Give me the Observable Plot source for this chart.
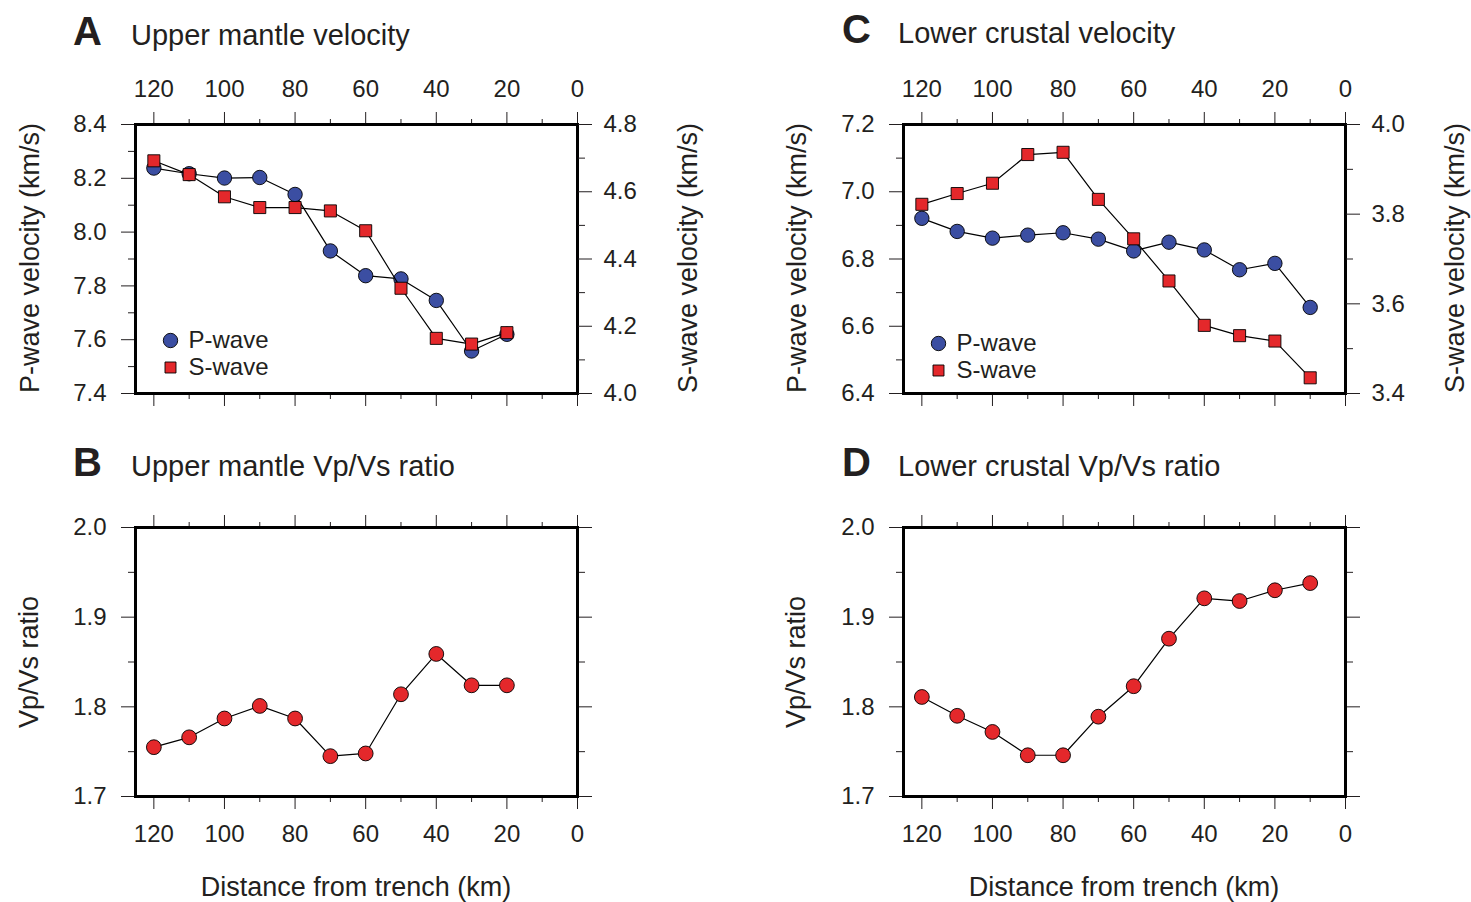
<!DOCTYPE html>
<html><head><meta charset="utf-8">
<script src="https://cdn.jsdelivr.net/npm/d3@7"></script>
<script src="https://cdn.jsdelivr.net/npm/@observablehq/plot@0.6"></script>
<style>
html,body{margin:0;padding:0;background:#fff;}
#fig{position:relative;width:1471px;height:902px;overflow:hidden;background:#fff;}
</style></head><body><div id="fig"></div>
<script>
// ---- data ----
const distUpper = [120,110,100,90,80,70,60,50,40,30,20];
const vpUpper = [8.238,8.217,8.201,8.203,8.140,7.930,7.838,7.826,7.746,7.558,7.620];
const vsUpper = [4.692,4.651,4.585,4.553,4.553,4.543,4.484,4.313,4.164,4.147,4.181];
const ratioUpper = [1.755,1.766,1.787,1.801,1.787,1.745,1.748,1.814,1.859,1.824,1.824];

const distLower = [120,110,100,90,80,70,60,50,40,30,20,10];
const vpLower = [6.921,6.882,6.862,6.871,6.878,6.859,6.824,6.850,6.827,6.768,6.787,6.656];
const vsLower = [3.822,3.846,3.869,3.933,3.938,3.833,3.745,3.651,3.552,3.529,3.517,3.435];
const ratioLower = [1.811,1.790,1.772,1.746,1.746,1.789,1.823,1.876,1.921,1.918,1.930,1.938];

const xMajor = [120,100,80,60,40,20,0];
const xMinor = [110,90,70,50,30,10];
const vpUpperMajor = [7.4,7.6,7.8,8.0,8.2,8.4];
const vpUpperMinor = [7.5,7.7,7.9,8.1,8.3];
const vsUpperMajor = [4.0,4.2,4.4,4.6,4.8];
const vsUpperMinor = [4.1,4.3,4.5,4.7];
const vpLowerMajor = [6.4,6.6,6.8,7.0,7.2];
const vpLowerMinor = [6.5,6.7,6.9,7.1];
const vsLowerMajor = [3.4,3.6,3.8,4.0];
const vsLowerMinor = [3.5,3.7,3.9];
const ratioMajor = [1.7,1.8,1.9,2.0];
const ratioMinor = [1.75,1.85,1.95];
const legendLabels = ["P-wave","S-wave"];

const blue = "#3b4ea2", red = "#e4282b", ink = "#231f20";
const font = "'Liberation Sans', Arial, Helvetica, sans-serif";
const xDomain = [125.2, 0];

const fig = document.getElementById("fig");
function place(el, left, top) {
  el.style.position = "absolute";
  el.style.left = left + "px";
  el.style.top = top + "px";
  fig.appendChild(el);
}
const none = () => "";
const f1 = d3.format(".1f");
function xAxes(labTop, labBottom) {
  return [
    Plot.axisX({anchor:"top", ticks:xMajor, tickSize:13, tickPadding:15, tickFormat: labTop ? d => String(d) : none, label:null}),
    Plot.axisX({anchor:"top", ticks:xMinor, tickSize:6, tickFormat:none, label:null}),
    Plot.axisX({anchor:"bottom", ticks:xMajor, tickSize:13, tickPadding:15, tickFormat: labBottom ? d => String(d) : none, label:null}),
    Plot.axisX({anchor:"bottom", ticks:xMinor, tickSize:6, tickFormat:none, label:null})
  ];
}
function yAxes(anchor, major, minor, labels, pad) {
  return [
    Plot.axisY({anchor, ticks:major, tickSize:14, tickPadding:pad, tickFormat: labels ? f1 : none, label:null}),
    Plot.axisY({anchor, ticks:minor, tickSize:7, tickFormat:none, label:null})
  ];
}
const style = {fontFamily:font, fontSize:"24px", color:ink, background:"transparent", overflow:"visible"};

const cols = [
  {left:0, width:740, ml:135, mr:163},
  {left:740, width:731, ml:163, mr:126}
];
const topRow = {top:60, height:360, mt:64, mb:27};
const botRow = {top:460, height:400, mt:67, mb:64};

function buildVel(col, dist, vp, vs, vpDom, vpMaj, vpMin, vsDom, vsMaj, vsMin, legDy) {
  const rows = dist.map((d,i) => ({d, vp: vp[i], vs: vs[i]}));
  const common = {width:col.width, height:topRow.height, marginLeft:col.ml, marginRight:col.mr,
    marginTop:topRow.mt, marginBottom:topRow.mb, style};
  const p = Plot.plot({...common,
    x:{domain:xDomain}, y:{domain:vpDom},
    marks:[
      ...xAxes(true,false),
      ...yAxes("left", vpMaj, vpMin, true, 15),
      Plot.line(rows, {x:"d", y:"vp", stroke:"black", strokeWidth:1.2}),
      Plot.dot(rows, {x:"d", y:"vp", r:7.2, fill:blue, stroke:"black", strokeWidth:0.9}),
      Plot.dot([legendLabels[0]], {frameAnchor:"bottom-left", dx:35, dy:legDy[0], r:7.2, fill:blue, stroke:"black", strokeWidth:0.9}),
      Plot.text([legendLabels[0]], {text:d=>d, frameAnchor:"bottom-left", dx:53, dy:legDy[0], textAnchor:"start", lineAnchor:"middle", fontSize:24, fill:ink}),
      Plot.text([legendLabels[1]], {text:d=>d, frameAnchor:"bottom-left", dx:53, dy:legDy[1], textAnchor:"start", lineAnchor:"middle", fontSize:24, fill:ink}),
      Plot.frame({stroke:"black", strokeWidth:3})
    ]});
  const s = Plot.plot({...common,
    x:{domain:xDomain, axis:null}, y:{domain:vsDom},
    marks:[
      ...yAxes("right", vsMaj, vsMin, true, 12),
      Plot.line(rows, {x:"d", y:"vs", stroke:"black", strokeWidth:1.2}),
      Plot.dot(rows, {x:"d", y:"vs", r:6.8, symbol:"square", fill:red, stroke:"black", strokeWidth:0.9}),
      Plot.dot([legendLabels[1]], {frameAnchor:"bottom-left", dx:35, dy:legDy[1], r:6.2, symbol:"square", fill:red, stroke:"black", strokeWidth:0.9})
    ]});
  place(p, col.left, topRow.top);
  place(s, col.left, topRow.top);
}

function buildRatio(col, dist, ratio) {
  const rows = dist.map((d,i) => ({d, r: ratio[i]}));
  const p = Plot.plot({width:col.width, height:botRow.height, marginLeft:col.ml, marginRight:col.mr,
    marginTop:botRow.mt, marginBottom:botRow.mb, style,
    x:{domain:xDomain}, y:{domain:[1.7,2.0]},
    marks:[
      ...xAxes(false,true),
      ...yAxes("left", ratioMajor, ratioMinor, true, 15),
      ...yAxes("right", ratioMajor, ratioMinor, false, 12),
      Plot.line(rows, {x:"d", y:"r", stroke:"black", strokeWidth:1.2}),
      Plot.dot(rows, {x:"d", y:"r", r:7.4, fill:red, stroke:"black", strokeWidth:0.9}),
      Plot.frame({stroke:"black", strokeWidth:3})
    ]});
  place(p, col.left, botRow.top);
}

buildVel(cols[0], distUpper, vpUpper, vsUpper, [7.4,8.4], vpUpperMajor, vpUpperMinor, [4.0,4.8], vsUpperMajor, vsUpperMinor, [-53,-26]);
buildVel(cols[1], distLower, vpLower, vsLower, [6.4,7.2], vpLowerMajor, vpLowerMinor, [3.4,4.0], vsLowerMajor, vsLowerMinor, [-50,-23]);
buildRatio(cols[0], distUpper, ratioUpper);
buildRatio(cols[1], distLower, ratioLower);

// ---- titles and axis labels ----
const titles = [
  {letter:"A", text:"Upper mantle velocity", x:73, tx:131, y:45},
  {letter:"B", text:"Upper mantle Vp/Vs ratio", x:73, tx:131, y:476},
  {letter:"C", text:"Lower crustal velocity", x:842, tx:898, y:43},
  {letter:"D", text:"Lower crustal Vp/Vs ratio", x:842, tx:898, y:476}
];
const yTitles = [
  {text:"P-wave velocity (km/s)", x:30, y:258},
  {text:"S-wave velocity (km/s)", x:688, y:258},
  {text:"P-wave velocity (km/s)", x:797, y:258},
  {text:"S-wave velocity (km/s)", x:1455, y:258},
  {text:"Vp/Vs ratio", x:29, y:662},
  {text:"Vp/Vs ratio", x:796, y:662}
];
const xTitles = [
  {text:"Distance from trench (km)", x:356, y:896},
  {text:"Distance from trench (km)", x:1124, y:896}
];
const ov = d3.create("svg").attr("width",1471).attr("height",902)
  .style("pointer-events","none").style("font-family",font).style("fill",ink);
for (const t of titles) {
  ov.append("text").attr("x",t.x).attr("y",t.y).attr("font-size",40).attr("font-weight","bold").text(t.letter);
  ov.append("text").attr("x",t.tx).attr("y",t.y).attr("font-size",29).text(t.text);
}
for (const t of yTitles) {
  ov.append("text").attr("transform",`translate(${t.x},${t.y}) rotate(-90)`).attr("text-anchor","middle")
    .attr("dy","0.35em").attr("font-size",27).text(t.text);
}
for (const t of xTitles) {
  ov.append("text").attr("x",t.x).attr("y",t.y).attr("text-anchor","middle").attr("font-size",27).text(t.text);
}
place(ov.node(), 0, 0);
</script>
</body></html>
